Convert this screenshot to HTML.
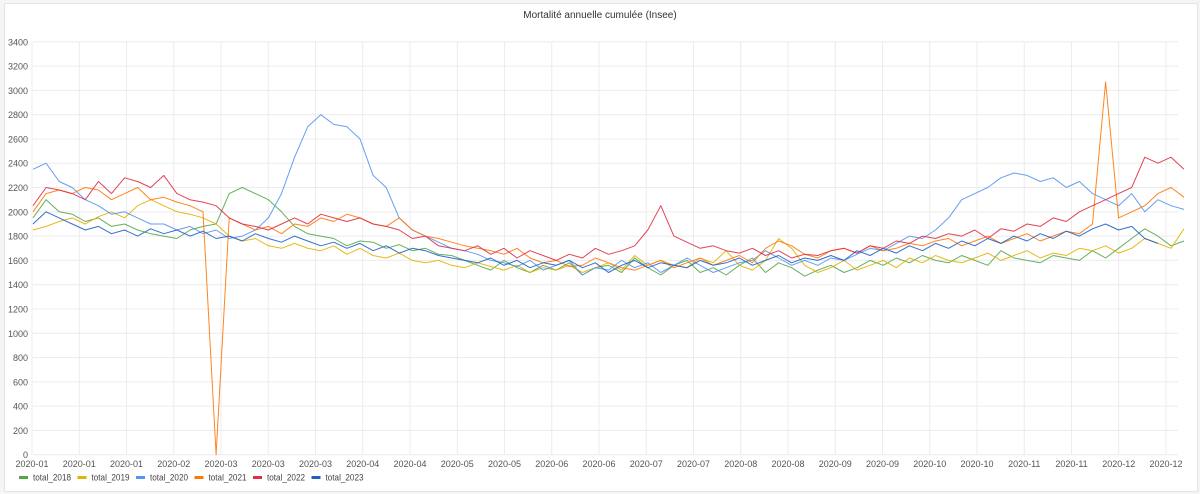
<!DOCTYPE html>
<html><head><meta charset="utf-8">
<style>
html,body{margin:0;padding:0;background:#f4f5f5;}
body{width:1200px;height:494px;position:relative;font-family:"Liberation Sans",sans-serif;overflow:hidden;}
#panel{position:absolute;left:4px;top:3px;width:1192px;height:487px;background:#fff;border:1px solid #e4e4e4;border-radius:2px;}
svg{position:absolute;left:0;top:0;}
text{font-family:"Liberation Sans",sans-serif;}
</style></head>
<body>
<div id="panel"></div>
<svg id="chart" width="1200" height="494"></svg>
<script>
const tickValues=[0,200,400,600,800,1000,1200,1400,1600,1800,2000,2200,2400,2600,2800,3000,3200,3400];
const xLabels=["2020-01","2020-01","2020-01","2020-02","2020-03","2020-03","2020-03","2020-04","2020-04","2020-05","2020-05","2020-06","2020-06","2020-07","2020-07","2020-08","2020-08","2020-09","2020-09","2020-10","2020-10","2020-11","2020-11","2020-12","2020-12"];
const seriesNames=["total_2018","total_2019","total_2020","total_2021","total_2022","total_2023"];
const s2018=[1950,2100,2000,1980,1920,1950,1880,1900,1850,1820,1800,1780,1850,1880,1900,2150,2200,2150,2100,2000,1880,1820,1800,1780,1720,1760,1750,1700,1730,1680,1700,1650,1640,1600,1560,1520,1600,1540,1500,1560,1520,1580,1480,1540,1560,1500,1620,1540,1480,1560,1600,1500,1540,1480,1560,1620,1500,1580,1540,1470,1520,1560,1500,1540,1600,1560,1620,1580,1640,1600,1580,1640,1600,1560,1680,1620,1600,1580,1640,1620,1600,1680,1620,1700,1780,1860,1800,1720,1760];
const s2019=[1850,1880,1920,1950,1900,1960,2000,1950,2050,2100,2050,2000,1980,1950,1900,1800,1760,1780,1720,1700,1740,1700,1680,1720,1650,1700,1640,1620,1660,1600,1580,1600,1560,1540,1580,1550,1520,1560,1500,1540,1520,1560,1500,1540,1580,1520,1640,1560,1600,1560,1540,1620,1580,1680,1560,1520,1600,1780,1700,1560,1500,1540,1600,1520,1560,1600,1540,1620,1580,1640,1600,1580,1620,1660,1600,1640,1680,1620,1660,1640,1700,1680,1720,1660,1700,1780,1740,1700,1860];
const s2020=[2350,2400,2250,2200,2100,2050,1980,2000,1950,1900,1900,1850,1880,1820,1850,1780,1800,1850,1950,2150,2450,2700,2800,2720,2700,2600,2300,2200,1950,1850,1800,1750,1700,1680,1650,1600,1580,1550,1600,1520,1560,1600,1480,1540,1520,1600,1540,1580,1500,1560,1620,1560,1500,1540,1580,1600,1680,1620,1560,1600,1560,1620,1600,1650,1700,1680,1740,1800,1780,1850,1950,2100,2150,2200,2280,2320,2300,2250,2280,2200,2250,2150,2100,2050,2150,2000,2100,2050,2020];
const s2021=[2000,2150,2180,2150,2200,2180,2100,2150,2200,2100,2120,2080,2050,2000,0,1950,1900,1850,1880,1820,1900,1880,1950,1920,1980,1950,1900,1880,1950,1850,1800,1780,1750,1720,1700,1680,1650,1700,1620,1580,1600,1550,1560,1620,1580,1540,1520,1560,1600,1540,1580,1620,1560,1600,1640,1580,1700,1760,1720,1650,1620,1680,1700,1660,1720,1680,1700,1740,1720,1760,1780,1720,1760,1800,1740,1780,1820,1760,1800,1840,1820,1900,3070,1950,2000,2050,2150,2200,2120];
const s2022=[2050,2200,2180,2150,2100,2250,2150,2280,2250,2200,2300,2150,2100,2080,2050,1950,1900,1880,1850,1900,1950,1900,1980,1950,1920,1950,1900,1880,1850,1780,1800,1720,1700,1680,1720,1650,1700,1620,1680,1640,1600,1650,1620,1700,1650,1680,1720,1850,2050,1800,1750,1700,1720,1680,1660,1700,1640,1680,1620,1650,1640,1680,1700,1660,1720,1700,1760,1740,1800,1780,1820,1800,1850,1780,1860,1840,1900,1880,1950,1920,2000,2050,2100,2150,2200,2450,2400,2450,2350];
const s2023=[1900,2000,1950,1900,1850,1880,1820,1850,1800,1860,1820,1850,1800,1840,1780,1800,1760,1820,1780,1750,1800,1760,1720,1750,1700,1740,1680,1720,1660,1700,1680,1640,1620,1600,1580,1620,1560,1600,1540,1580,1560,1600,1540,1580,1500,1560,1600,1540,1580,1560,1540,1600,1560,1580,1620,1560,1600,1640,1580,1620,1600,1640,1600,1680,1640,1700,1660,1720,1680,1740,1700,1760,1720,1780,1740,1800,1760,1820,1780,1840,1800,1860,1900,1850,1880,1780,1740];
const seriesColors=["#56A64B","#E0B400","#5794F2","#FF780A","#E02F44","#1F60C4"];
const allSeries=[s2018,s2019,s2020,s2021,s2022,s2023];

const NS="http://www.w3.org/2000/svg";
const svg=document.getElementById('chart');
const X0=33,PXDAY=3.27,STEP=4,Y0=454.7,YMAX=3400,YTOP=41.8;
const LBL0=32,LBLSTEP=47.25;
function xDay(d){return X0+d*PXDAY;}
function xLab(i){return LBL0+i*LBLSTEP;}
function y(v){return Y0-(v/YMAX)*(Y0-YTOP);}
function mk(tag,attrs){const e=document.createElementNS(NS,tag);for(const k in attrs)e.setAttribute(k,attrs[k]);svg.appendChild(e);return e;}

const title=mk('text',{x:600,y:18,'text-anchor':'middle','font-size':'10','fill':'#333'});


title.textContent='Mortalité annuelle cumulée (Insee)';

tickValues.forEach(v=>{
  const g=mk('line',{x1:X0,x2:1178,y1:y(v),y2:y(v),stroke:'#ececec','stroke-width':1});
  
  
  const t=mk('text',{x:28,y:y(v)+3.5,'text-anchor':'end','font-size':'9','fill':'#555'});
  
  
  t.textContent=v;
});
xLabels.forEach((lab,i)=>{
  const xx=xLab(i);
  const g=mk('line',{x1:xx,x2:xx,y1:YTOP,y2:Y0,stroke:'#ececec','stroke-width':1});
  
  
  const t=mk('text',{x:xx,y:467,'text-anchor':'middle','font-size':'9','fill':'#555'});
  
  
  t.textContent=lab;
});

allSeries.forEach((arr,si)=>{
  const pts=arr.map((v,i)=>xDay(i*STEP).toFixed(1)+','+y(v).toFixed(1)).join(' ');
  const p=mk('polyline',{points:pts,fill:'none',stroke:seriesColors[si],'stroke-width':1,'stroke-linejoin':'round','stroke-opacity':0.9});
  
  
});

let lx=19;
seriesNames.forEach((n,i)=>{
  const m=mk('rect',{x:lx,y:476,width:9,height:3,fill:seriesColors[i]});
  
  
  const t=mk('text',{x:lx+14,y:480.5,'font-size':'9','fill':'#444',textLength:38,lengthAdjust:'spacingAndGlyphs'});
  
  
  t.textContent=n;
  lx+=58.5;
});
</script>
</body></html>
